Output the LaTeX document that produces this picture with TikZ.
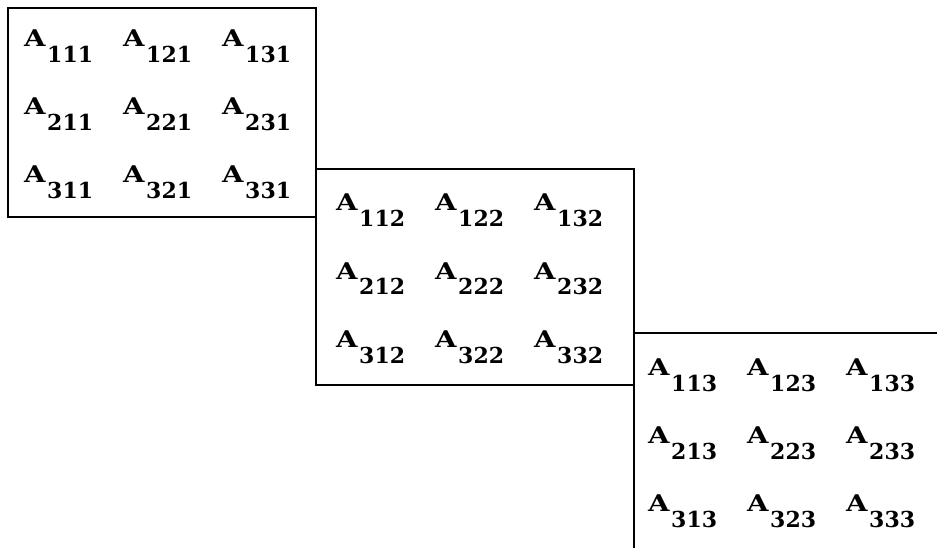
\documentclass[tikz,border=0pt]{standalone}
\usepackage{fontspec}
\usepackage{graphicx}
\setmainfont{DejaVu Serif}
\newcommand{\entry}[1]{\makebox[23pt][l]{\scalebox{1.2}[1]{\fontsize{23pt}{26pt}\selectfont A}}\lower16pt\hbox{#1}}
\tikzset{
  lbl/.style={anchor=base west, inner sep=0pt, font=\fontsize{22pt}{25pt}\selectfont\bfseries},
  frame/.style={line width=2.6pt, line cap=rect}
}
\begin{document}
\begin{tikzpicture}[x=1pt,y=-1pt]
\useasboundingbox (0,0) rectangle (937,548);
% frames
\coordinate (p1) at (316,8);
\coordinate (p2) at (8,8);
\coordinate (p3) at (8,217);
\coordinate (p4) at (316,217);
\coordinate (p5) at (316,385);
\coordinate (q1) at (316,169);
\coordinate (q2) at (634,169);
\coordinate (q3) at (634,385);
\coordinate (q4) at (634,548);
\coordinate (r1) at (634,333);
\coordinate (r2) at (937,333);
\draw[frame] (p4) -- (p3) -- (p2) -- (p1) -- (p5) -- (q3);
\draw[frame] (q1) -- (q2) -- (q4);
\draw[frame] (r1) -- (r2);
% entries
\foreach \k in {1,2,3}{
  \foreach \i in {1,2,3}{
    \foreach \j in {1,2,3}{
      \pgfmathsetmacro{\xx}{24+312*(\k-1)+99*(\j-1)}
      \pgfmathsetmacro{\yy}{47+164*(\k-1)+68*(\i-1)}
      \node[lbl] (a\i\j\k) at (\xx,\yy) {\entry{\i\j\k}};
    }
  }
}
\end{tikzpicture}
\end{document}
